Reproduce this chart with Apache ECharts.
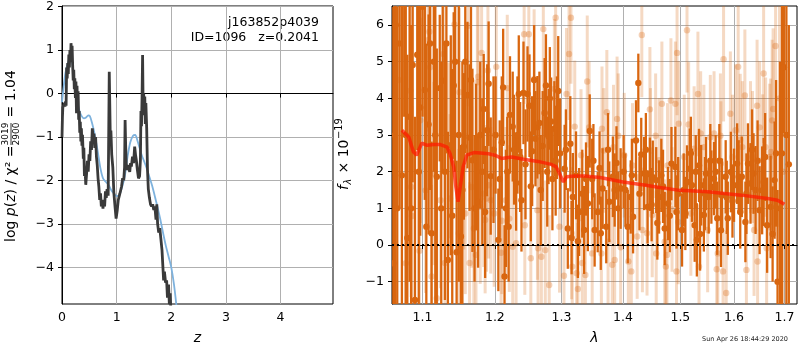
<!DOCTYPE html>
<html>
<head>
<meta charset="utf-8">
<script src="https://cdn.jsdelivr.net/npm/echarts@6/dist/echarts.min.js"></script>
<style>
    html, body { margin: 0; padding: 0; background: #fff; }
    #chart { width: 800px; height: 350px; }
</style>
</head>
<body>
<div id="chart"></div>
<script>
    // ---- left panel: log p(z) ----
    const zGrid = [0.000, 0.008, 0.015, 0.025, 0.035, 0.045, 0.055, 0.065, 0.075, 0.085, 0.095, 0.105, 0.115, 0.125, 0.135, 0.145, 0.155, 0.165, 0.175, 0.185,
        0.195, 0.205, 0.215, 0.225, 0.235, 0.245, 0.255, 0.265, 0.275, 0.285, 0.295, 0.305, 0.315, 0.325, 0.335, 0.345, 0.355, 0.365, 0.375, 0.390,
        0.400, 0.410, 0.420, 0.435, 0.450, 0.465, 0.480, 0.495, 0.510, 0.525, 0.540, 0.555, 0.570, 0.585, 0.600, 0.615, 0.630, 0.645, 0.660, 0.675,
        0.690, 0.705, 0.720, 0.735, 0.750, 0.765, 0.780, 0.795, 0.810, 0.825, 0.845, 0.865, 0.875, 0.885, 0.895, 0.910, 0.930, 0.950, 0.970, 0.990,
        1.010, 1.030, 1.060, 1.090, 1.110, 1.130, 1.145, 1.155, 1.165, 1.180, 1.200, 1.215, 1.240, 1.255, 1.270, 1.290, 1.310, 1.330, 1.345, 1.360,
        1.380, 1.400, 1.420, 1.435, 1.445, 1.455, 1.465, 1.475, 1.485, 1.495, 1.505, 1.515, 1.525, 1.535, 1.550, 1.565, 1.580, 1.600, 1.620, 1.640,
        1.660, 1.680, 1.700, 1.720, 1.735, 1.750, 1.770, 1.790, 1.810, 1.830, 1.845, 1.860, 1.875, 1.895, 1.915, 1.930, 1.950, 1.965, 1.980, 2.000]
    const logPz = [-1.00, -0.55, -0.32, -0.28, -0.35, -0.22, -0.30, -0.18, -0.28, 0.60, 0.35, 0.70, 0.45, 0.90, 0.60, 1.00, 0.72, 1.16, 0.90, 1.10,
        0.65, 0.30, 0.55, 0.10, 0.35, -0.10, 0.28, -0.45, 0.18, -0.40, 0.05, -0.60, -0.40, -0.90, -0.65, -1.10, -0.80, -1.20, -0.95, -1.50,
        -1.25, -1.90, -1.70, -2.10, -1.85, -1.55, -1.80, -1.40, -1.55, -1.10, -1.30, -0.80, -1.05, -0.92, -1.25, -1.00, -1.45, -1.65, -1.95, -2.15,
        -2.45, -2.30, -2.60, -2.45, -2.65, -2.45, -2.60, -2.25, -2.40, -2.20, -2.35, 0.50, -0.30, -1.10, -0.85, -1.40, -1.70, -2.30, -2.60, -2.88,
        -2.70, -2.45, -2.30, -2.14, -1.95, -2.00, -1.70, -0.61, -1.20, -1.76, -1.65, -1.61, -1.80, -1.60, -1.68, -1.45, -1.60, -1.22, -1.40, -1.53,
        -1.76, -1.95, -1.90, -1.53, -0.40, -0.75, -0.10, 0.89, -0.30, 0.00, -0.50, -0.07, -0.70, -0.22, -0.80, -1.76, -2.20, -2.40, -2.55, -2.60,
        -2.55, -2.68, -2.60, -2.90, -2.55, -3.00, -3.20, -3.10, -3.35, -3.60, -3.95, -4.30, -4.10, -4.35, -4.30, -4.70, -4.40, -4.85, -4.60, -5.20]
    // smoothed p(z)
    const zSmooth = [0.00, 0.03, 0.06, 0.10, 0.14, 0.17, 0.20, 0.24, 0.28, 0.32, 0.36, 0.40, 0.44, 0.48, 0.51, 0.55, 0.60, 0.65, 0.70, 0.75,
        0.80, 0.85, 0.90, 0.95, 1.00, 1.05, 1.10, 1.15, 1.20, 1.25, 1.30, 1.34, 1.38, 1.42, 1.46, 1.50, 1.55, 1.60, 1.65, 1.70,
        1.75, 1.80, 1.85, 1.90, 1.95, 2.00, 2.05, 2.10]
    const logPzSmooth = [-0.20, 0.15, 0.45, 0.68, 0.78, 0.78, 0.60, 0.15, -0.20, -0.40, -0.52, -0.57, -0.55, -0.50, -0.52, -0.68, -0.95, -1.30, -1.70, -1.95,
        -2.03, -2.10, -2.22, -2.30, -2.36, -2.33, -2.15, -1.90, -1.45, -1.12, -0.97, -0.95, -1.08, -1.25, -1.42, -1.55, -1.72, -1.92, -2.12, -2.37,
        -2.62, -2.90, -3.21, -3.50, -3.75, -4.00, -4.40, -4.95]
    const zTicks = [0, 1, 2, 3, 4]
    const pzTicks = [-4, -3, -2, -1, 0, 1, 2]

    // ---- right panel: spectrum (flux x 1e-19) ----
    const waveDark = [1.064, 1.067, 1.070, 1.073, 1.076, 1.080, 1.083, 1.087, 1.090, 1.093, 1.097, 1.100, 1.103, 1.108, 1.112, 1.115, 1.119, 1.123, 1.127, 1.130,
        1.134, 1.138, 1.142, 1.146, 1.149, 1.152, 1.156, 1.161, 1.164, 1.168, 1.173, 1.176, 1.179, 1.184, 1.189, 1.194, 1.198, 1.205, 1.210, 1.214,
        1.218, 1.222, 1.226, 1.231, 1.235, 1.239, 1.242, 1.248, 1.251, 1.255, 1.260, 1.263, 1.266, 1.271, 1.276, 1.280, 1.284, 1.289, 1.293, 1.298,
        1.305, 1.310, 1.314, 1.318, 1.323, 1.328, 1.333, 1.336, 1.342, 1.345, 1.349, 1.353, 1.358, 1.363, 1.366, 1.372, 1.377, 1.383, 1.386, 1.389,
        1.396, 1.401, 1.408, 1.413, 1.417, 1.422, 1.426, 1.431, 1.436, 1.442, 1.446, 1.451, 1.457, 1.462, 1.466, 1.472, 1.478, 1.484, 1.491, 1.496,
        1.503, 1.509, 1.512, 1.517, 1.521, 1.526, 1.530, 1.534, 1.538, 1.543, 1.547, 1.552, 1.557, 1.562, 1.568, 1.572, 1.577, 1.584, 1.588, 1.594,
        1.600, 1.606, 1.609, 1.615, 1.622, 1.627, 1.632, 1.638, 1.642, 1.650, 1.655, 1.658, 1.665, 1.672, 1.680, 1.686, 1.691, 1.695, 1.699, 1.704, 1.709,
        // bars whose dots are hidden or off the panel
        1.062, 1.065, 1.078, 1.085, 1.095, 1.105, 1.110, 1.117, 1.125, 1.132, 1.140, 1.144, 1.154, 1.158,
        1.166, 1.171, 1.182, 1.186, 1.191, 1.201, 1.207, 1.212, 1.216, 1.220, 1.228, 1.233, 1.237, 1.245, 1.253, 1.258,
        1.268, 1.274, 1.278, 1.282, 1.286, 1.291, 1.295,
        1.307, 1.316, 1.326, 1.339, 1.351, 1.361, 1.375, 1.392, 1.404, 1.415, 1.428, 1.439, 1.449, 1.459, 1.469, 1.481,
        1.493, 1.506, 1.519, 1.528, 1.536, 1.545, 1.555, 1.565, 1.575, 1.586, 1.597, 1.612, 1.624, 1.635, 1.646, 1.661, 1.676, 1.683]
    const fluxDark = [3.0, 1.0, 5.5, 1.90, 7.5, 0.19, 3.5, 4.91, -1.50, 5.19, 3.75, 6.5, 4.23, 3.29, 0.32, 5.0, 1.86, 4.28, 4.48, 2.0,
        -0.41, 2.72, 4.35, -0.20, 3.0, 0.23, 2.69, 4.09, 2.93, 2.31, 2.40, 1.18, 3.0, 3.71, 3.13, 1.88, 2.6, 0.14, 2.8, -0.86,
        2.0, 3.55, 3.23, 1.69, 4.12, 1.22, 4.15, 4.12, 3.80, 2.56, 2.90, 3.21, 3.33, 2.70, 4.35, 2.96, 3.37, 3.17, 3.20, 2.5,
        2.08, 0.45, 2.76, 1.31, 1.9, 0.9, 1.40, 0.41, 1.13, 3.11, 1.8, 0.41, 0.90, 0.32, 1.54, 0.50, 1.18, 1.86, 1.5, 2.24,
        1.54, 2.0, 0.50, 1.31, 0.77, 2.85, 4.42, 2.47, 1.95, 1.04, 1.93, 1.85, 1.77, 1.31, 1.90, 0.45, 1.13, 2.22, 2.13, 1.40,
        0.41, 0.86, 1.72, 2.08, 1.63, 0.54, 0.14, 2.17, 1.63, 0.82, 1.95, 1.31, 1.58, 1.81, 0.73, 2.3, 1.36, 1.86, 0.73, 1.99,
        1.63, 2.22, 1.86, 1.86, 0.63, 2.22, 1.68, 1.95, 1.5, 0.95, 1.49, 1.72, 0.54, 1.04, 1.77, -1.0, 1.0, 2.5, 4.85, 3.0, 2.2,
        -0.5, 6.0, 3.0, 1.0, 2.0, 0.5, 5.5, 3.0, 1.0, 5.5, 0.8, 5.0, 1.5, 5.0,
        4.5, 1.0, 2.0, 0.9, 4.4, 3.0, 1.8, 4.3, 1.0, 0.5, 2.6, 3.0, 2.4, 2.2, 1.6, 4.5,
        1.5, 3.6, 2.0, 4.0, 1.8, 2.3, 4.2,
        2.6, 0.2, 0.1, 1.8, 2.3, 2.1, 2.6, 1.0, 1.5, 1.9, 1.4, 2.6, 1.1, 0.6, 1.6, 0.8,
        0.9, 1.5, 2.5, 2.0, 0.3, 1.4, 2.3, 2.0, 0.4, 1.3, 1.2, 0.9, 1.4, 2.6, 2.3, 2.4, 0.3, 2.5]
    const errDark = [6.0, 5.5, 4.5, 5.0, 4.0, 5.0, 4.5, 3.2, 5.0, 2.6, 3.5, 3.0, 3.0, 3.0, 2.5, 3.0, 3.5, 2.0, 2.5, 3.5,
        3.5, 3.0, 2.0, 2.5, 4.0, 2.5, 2.0, 2.0, 2.0, 2.5, 2.0, 1.8, 2.0, 1.5, 1.8, 1.6, 2.0, 1.4, 1.8, 1.4,
        1.5, 1.6, 1.5, 1.3, 1.6, 1.4, 1.4, 1.3, 1.4, 1.5, 1.3, 1.4, 1.4, 1.5, 1.4, 1.3, 1.2, 1.3, 1.4, 1.5,
        1.2, 1.1, 1.3, 1.2, 1.2, 1.2, 1.2, 1.2, 1.3, 1.0, 1.1, 1.0, 1.1, 1.0, 1.1, 1.0, 1.1, 1.1, 1.0, 1.0,
        1.1, 1.0, 1.0, 1.0, 1.0, 1.1, 0.8, 1.0, 1.0, 1.0, 1.0, 1.0, 0.9, 1.0, 1.0, 1.0, 1.0, 1.0, 1.1, 1.0,
        1.0, 1.0, 1.0, 1.1, 1.0, 1.0, 1.0, 1.0, 1.1, 1.0, 1.0, 1.0, 1.0, 1.0, 1.0, 1.0, 1.0, 1.0, 1.0, 1.1,
        1.0, 1.1, 1.0, 1.1, 1.1, 1.1, 1.1, 1.1, 1.2, 1.2, 1.2, 1.2, 1.3, 1.4, 1.6, 2.5, 4.0, 5.0, 1.8, 6.0, 3.8,
        7.0, 5.0, 6.0, 5.0, 6.0, 5.0, 4.0, 5.0, 4.0, 3.0, 4.0, 3.0, 3.5, 2.5,
        2.0, 2.0, 2.0, 1.8, 1.7, 1.6, 1.6, 1.6, 1.6, 1.5, 1.5, 1.6, 1.5, 1.5, 1.5, 1.5,
        1.5, 1.5, 1.5, 1.4, 1.4, 1.5, 1.5,
        1.1, 1.0, 1.0, 1.0, 1.0, 1.0, 1.0, 1.0, 1.0, 1.0, 1.0, 1.0, 1.0, 1.0, 1.0, 1.0,
        1.0, 1.0, 1.0, 1.0, 1.0, 1.0, 1.0, 1.0, 1.0, 1.0, 1.0, 1.0, 1.1, 1.1, 1.1, 1.2, 1.3, 2.0]
    // faint points (second exposure)
    const waveFaint = [1.064, 1.069, 1.078, 1.084, 1.085, 1.086, 1.096, 1.097, 1.104, 1.107, 1.109, 1.110, 1.112, 1.115, 1.119, 1.124, 1.128, 1.130, 1.135, 1.137,
        1.143, 1.149, 1.150, 1.156, 1.158, 1.162, 1.164, 1.167, 1.170, 1.173, 1.175, 1.176, 1.179, 1.181, 1.184, 1.186, 1.188, 1.190, 1.191, 1.194,
        1.199, 1.202, 1.209, 1.210, 1.216, 1.218, 1.221, 1.226, 1.231, 1.243, 1.244, 1.250, 1.253, 1.258, 1.263, 1.264, 1.269, 1.272, 1.275, 1.281,
        1.289, 1.291, 1.297, 1.304, 1.308, 1.312, 1.315, 1.316, 1.317, 1.321, 1.324, 1.326, 1.331, 1.333, 1.338, 1.341, 1.344, 1.349, 1.364, 1.365,
        1.368, 1.373, 1.375, 1.382, 1.384, 1.386, 1.390, 1.392, 1.396, 1.402, 1.409, 1.414, 1.416, 1.424, 1.432, 1.433, 1.441, 1.446, 1.447, 1.450,
        1.456, 1.457, 1.462, 1.467, 1.472, 1.474, 1.476, 1.477, 1.483, 1.485, 1.491, 1.493, 1.494, 1.496, 1.497, 1.507, 1.512, 1.515, 1.519, 1.525,
        1.532, 1.534, 1.537, 1.543, 1.550, 1.555, 1.562, 1.567, 1.569, 1.574, 1.575, 1.579, 1.580, 1.585, 1.593, 1.597, 1.603, 1.608, 1.612, 1.616,
        1.621, 1.624, 1.632, 1.636, 1.639, 1.645, 1.646, 1.650, 1.656, 1.658, 1.662, 1.664, 1.670, 1.672, 1.675, 1.677, 1.682, 1.690, 1.697]
    const fluxFaint = [2.0, 4.5, -0.5, 4.21, 1.58, 0.79, -0.16, 3.40, 1.49, 5.59, 5.82, 4.85, -0.86, 1.95, -1.45, 1.22, 5.21, -0.49, 2.58, 1.27,
        6.02, 0.32, 4.17, 2.08, 0.86, 5.98, -0.49, 1.58, 0.45, -0.27, 4.44, 4.59, 1.04, 5.24, 1.40, 0.68, 1.27, 4.76, 1.63, 1.22,
        0.86, 4.86, -0.21, 0.66, 1.22, 4.28, 0.72, -0.05, 0.05, 5.75, 0.54, 5.75, -0.36, 4.53, 0.95, -0.09, -0.32, 5.89, -0.14, -1.09,
        4.26, 6.20, 0.50, -0.84, 4.12, 5.21, 6.20, 0.32, -0.59, 3.23, -0.77, -1.20, 2.45, -0.49, -0.82, 4.46, 3.21, -0.23, -0.23, 3.17,
        2.58, 3.62, 0.09, -0.54, 2.67, -0.41, 3.44, 2.98, -0.06, 2.45, -0.45, -0.72, 2.17, 0.23, 5.73, 0.41, 0.32, 3.70, 2.58, 0.82,
        2.98, -0.23, 2.31, 3.85, 0.09, -0.59, -0.27, 2.17, 3.94, 0.97, 3.85, -0.72, 5.24, 0.63, 3.31, 2.40, 5.86, 3.29, 0.86, 2.63,
        4.12, -0.59, 3.04, 2.67, 0.41, 2.94, 3.04, -0.66, -0.23, 2.98, 2.22, -0.72, 5.07, -1.31, 3.58, 2.40, 3.13, 4.86, 2.87, 2.67,
        4.08, -0.68, 2.67, 2.40, 0.41, 3.80, -0.45, 3.21, 2.31, 4.68, 2.67, -0.09, 2.40, 2.54, 3.40, 3.71, 5.43, 4.0, 2.0]
    const errFaint = [4.0, 3.5, 3.5, 3.0, 3.0, 3.0, 3.0, 2.8, 2.8, 2.5, 2.5, 2.5, 2.5, 2.5, 2.5, 2.4, 2.4, 2.4, 2.4, 2.3,
        2.3, 2.3, 2.3, 2.2, 2.2, 2.2, 2.2, 2.2, 2.1, 2.1, 2.1, 2.1, 2.1, 2.1, 2.0, 2.0, 2.0, 2.0, 2.0, 2.0,
        2.0, 2.0, 2.0, 2.0, 2.0, 2.0, 2.0, 2.0, 1.9, 1.9, 1.9, 1.9, 1.9, 1.9, 1.9, 1.9, 1.9, 1.9, 1.9, 1.9,
        1.9, 1.9, 1.8, 1.8, 1.8, 1.8, 1.8, 1.8, 1.8, 1.8, 1.8, 1.8, 1.8, 1.8, 1.8, 1.8, 1.8, 1.8, 1.7, 1.7,
        1.7, 1.7, 1.7, 1.7, 1.7, 1.7, 1.7, 1.7, 1.7, 1.7, 1.7, 1.7, 1.7, 1.7, 1.7, 1.7, 1.7, 1.7, 1.7, 1.7,
        1.7, 1.7, 1.7, 1.7, 1.7, 1.7, 1.7, 1.7, 1.7, 1.7, 1.7, 1.7, 1.7, 1.7, 1.7, 1.7, 1.7, 1.7, 1.7, 1.7,
        1.7, 1.7, 1.7, 1.7, 1.7, 1.7, 1.7, 1.7, 1.7, 1.7, 1.7, 1.7, 1.7, 1.7, 1.7, 1.7, 1.8, 1.8, 1.8, 1.8,
        1.8, 1.8, 1.8, 1.8, 1.8, 1.8, 1.8, 1.8, 1.8, 1.9, 1.9, 1.9, 2.0, 2.0, 2.2, 2.2, 2.5, 3.5, 4.0]
    // best-fit template
    const waveModel = [1.073, 1.082, 1.088, 1.092, 1.099, 1.106, 1.115, 1.124, 1.133, 1.137, 1.142, 1.145, 1.148, 1.151, 1.155, 1.160, 1.170, 1.179, 1.191, 1.200,
        1.210, 1.224, 1.244, 1.264, 1.284, 1.292, 1.297, 1.303, 1.308, 1.321, 1.337, 1.362, 1.400, 1.439, 1.463, 1.499, 1.550, 1.614, 1.666, 1.686, 1.700]
    const fluxModel = [3.13, 2.94, 2.54, 2.45, 2.78, 2.72, 2.74, 2.74, 2.67, 2.49, 2.13, 1.58, 1.18, 1.58, 2.13, 2.45, 2.52, 2.51, 2.49, 2.45,
        2.36, 2.40, 2.33, 2.28, 2.20, 2.13, 1.95, 1.72, 1.86, 1.88, 1.88, 1.84, 1.72, 1.63, 1.57, 1.49, 1.45, 1.36, 1.27, 1.22, 1.11]
    const waveTicks = [1.1, 1.2, 1.3, 1.4, 1.5, 1.6, 1.7]
    const fluxTicks = [-1, 0, 1, 2, 3, 4, 5, 6]

    const font = 'DejaVu Sans'
    const orange = '#d9660f'
    const minus = v => String(v).replace('-', '\u2212')

    // x of the spectrum panel is logarithmic in wavelength
    const lg = w => Math.log(w)

    // one vertical error bar + dot per point
    function errorBar (barColor, dotColor, width) {
        return function (params, api) {
            let x = api.value(0)
            let y = api.value(1)
            let e = api.value(2)
            let top = api.coord([x, y + e])
            let bot = api.coord([x, y - e])
            let mid = api.coord([x, y])
            return {
                type: 'group',
                children: [
                    { type: 'line', shape: { x1: top[0], y1: top[1], x2: bot[0], y2: bot[1] }, style: { stroke: barColor, lineWidth: width } },
                    { type: 'circle', shape: { cx: mid[0], cy: mid[1], r: 3.2 }, style: { fill: dotColor } }
                ]
            }
        }
    }

    const axisText = { color: '#000', fontFamily: font, fontSize: 12.5 }
    const gridLine = { show: true, lineStyle: { color: '#b0b0b0', width: 1 } }
    const tick = { show: true, inside: false, length: 4, lineStyle: { color: '#000' } }

    let chart = echarts.init(document.getElementById('chart'))
    chart.setOption({
        animation: false,
        grid: [
            { left: 62, top: 6, width: 271, height: 298, show: true, borderColor: '#000', borderWidth: 1 },
            { left: 392, top: 6, width: 405, height: 298, show: true, borderColor: '#000', borderWidth: 1 }
        ],
        xAxis: [
            {
                gridIndex: 0, type: 'value', min: 0, max: 4.96, interval: 1,
                name: 'z', nameLocation: 'middle', nameGap: 27,
                nameTextStyle: { fontFamily: font, fontSize: 14, fontStyle: 'italic', color: '#000' },
                axisLine: { lineStyle: { color: '#000' } },
                axisTick: Object.assign({ customValues: zTicks }, tick),
                axisLabel: Object.assign({ customValues: zTicks, margin: 7 }, axisText),
                splitLine: gridLine
            },
            {
                gridIndex: 1, type: 'value', min: lg(1.0603), max: lg(1.7259),
                name: 'λ', nameLocation: 'middle', nameGap: 27,
                nameTextStyle: { fontFamily: font, fontSize: 14, fontStyle: 'italic', color: '#000' },
                axisLine: { lineStyle: { color: '#000' } },
                axisTick: Object.assign({ customValues: waveTicks.map(lg) }, tick),
                axisLabel: Object.assign({ customValues: waveTicks.map(lg), margin: 7, formatter: v => Math.exp(v).toFixed(1) }, axisText),
                splitLine: gridLine
            }
        ],
        yAxis: [
            {
                gridIndex: 0, type: 'value', min: -4.845, max: 2.016,
                axisLine: { show: true, lineStyle: { color: '#000' } },
                axisTick: Object.assign({ customValues: pzTicks }, tick),
                axisLabel: Object.assign({ customValues: pzTicks, margin: 8, formatter: minus }, axisText),
                splitLine: gridLine
            },
            {
                gridIndex: 1, type: 'value', min: -1.61, max: 6.52,
                axisLine: { show: true, lineStyle: { color: '#000' } },
                axisTick: Object.assign({ customValues: fluxTicks }, tick),
                axisLabel: Object.assign({ customValues: fluxTicks, margin: 8, formatter: minus }, axisText),
                splitLine: gridLine
            }
        ],
        series: [
            {
                type: 'line', xAxisIndex: 0, yAxisIndex: 0,
                data: zSmooth.map((z, i) => [z, logPzSmooth[i]]),
                showSymbol: false, smooth: 0.3, clip: true,
                lineStyle: { color: '#7eb2dd', width: 1.8 }, z: 3
            },
            {
                type: 'line', xAxisIndex: 0, yAxisIndex: 0,
                data: zGrid.map((z, i) => [z, logPz[i]]),
                showSymbol: false, clip: true,
                lineStyle: { color: '#3a3a3a', width: 2.8 }, z: 4
            },
            {
                type: 'custom', xAxisIndex: 1, yAxisIndex: 1, clip: true, silent: true,
                renderItem: errorBar('rgba(217,102,15,0.25)', 'rgba(217,102,15,0.3)', 3),
                encode: { x: 0, y: 1 },
                data: waveFaint.map((w, i) => [lg(w), fluxFaint[i], errFaint[i]]), z: 2
            },
            {
                type: 'custom', xAxisIndex: 1, yAxisIndex: 1, clip: true, silent: true,
                renderItem: errorBar(orange, orange, 2.3),
                encode: { x: 0, y: 1 },
                data: waveDark.map((w, i) => [lg(w), fluxDark[i], errDark[i]]), z: 3
            },
            {
                type: 'line', xAxisIndex: 1, yAxisIndex: 1,
                data: waveModel.map((w, i) => [lg(w), fluxModel[i]]),
                showSymbol: false, clip: true,
                lineStyle: { color: 'rgba(255,25,0,0.72)', width: 3.5 }, z: 5,
                markLine: {
                    silent: true, symbol: 'none', label: { show: false },
                    lineStyle: { color: '#000', type: [2, 3], width: 2 },
                    data: [{ yAxis: 0 }]
                }
            }
        ],
        graphic: [
            // left y label: log p(z) / chi^2 = 3019/2900 = 1.04
            {
                type: 'group', x: 11, y: 242, rotation: Math.PI / 2,
                children: [
                    {
                        type: 'text', x: 0, y: 0,
                        style: {
                            text: '{n|log }{i|p}{n|(}{i|z}{n|) / χ² =}', verticalAlign: 'middle', align: 'left',
                            rich: {
                                n: { fontFamily: font, fontSize: 14, fill: '#000' },
                                i: { fontFamily: font, fontSize: 14, fontStyle: 'italic', fill: '#000' }
                            }
                        }
                    },
                    { type: 'text', x: 108, y: -5.5, style: { text: '3019', fontFamily: font, fontSize: 9, fill: '#000', align: 'center', verticalAlign: 'middle' } },
                    { type: 'line', shape: { x1: 97, y1: 0, x2: 119, y2: 0 }, style: { stroke: '#000', lineWidth: 0.8 } },
                    { type: 'text', x: 108, y: 5.5, style: { text: '2900', fontFamily: font, fontSize: 9, fill: '#000', align: 'center', verticalAlign: 'middle' } },
                    { type: 'text', x: 120, y: 0, style: { text: ' = 1.04', fontFamily: font, fontSize: 14, fill: '#000', align: 'left', verticalAlign: 'middle' } }
                ]
            },
            // right y label: f_lambda x 10^-19
            {
                type: 'group', x: 344, y: 190, rotation: Math.PI / 2,
                children: [
                    { type: 'text', x: 0, y: 0, style: { text: 'f', fontFamily: font, fontSize: 14, fontStyle: 'italic', fill: '#000', align: 'left', verticalAlign: 'middle' } },
                    { type: 'text', x: 5.5, y: 4, style: { text: 'λ', fontFamily: font, fontSize: 9.8, fontStyle: 'italic', fill: '#000', align: 'left', verticalAlign: 'middle' } },
                    { type: 'text', x: 12, y: 0, style: { text: ' × 10', fontFamily: font, fontSize: 14, fill: '#000', align: 'left', verticalAlign: 'middle' } },
                    { type: 'text', x: 51, y: -5, style: { text: '\u221219', fontFamily: font, fontSize: 9.8, fill: '#000', align: 'left', verticalAlign: 'middle' } }
                ]
            },
            { type: 'text', x: 319, y: 23, style: { text: 'j163852p4039', fontFamily: font, fontSize: 12.5, fill: '#000', align: 'right', verticalAlign: 'middle' } },
            { type: 'text', x: 319, y: 38, style: { text: 'ID=1096   z=0.2041', fontFamily: font, fontSize: 12.5, fill: '#000', align: 'right', verticalAlign: 'middle' } },
            { type: 'text', x: 788, y: 339, style: { text: 'Sun Apr 26 18:44:29 2020', fontFamily: font, fontSize: 6.5, fill: '#222', align: 'right', verticalAlign: 'middle' } }
        ]
    })
</script>
</body>
</html>
